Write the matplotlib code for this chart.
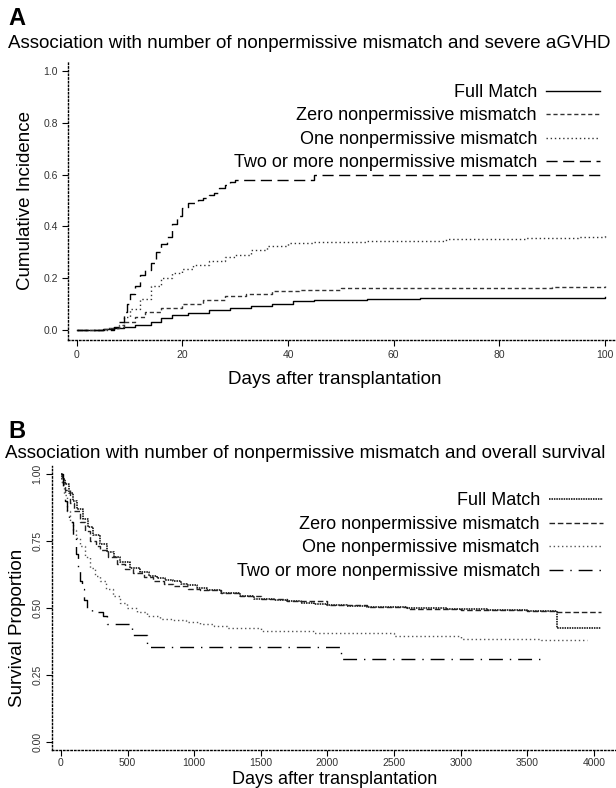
import matplotlib
matplotlib.use("Agg")
import matplotlib.pyplot as plt

plt.rcParams['font.family'] = ['Liberation Sans', 'DejaVu Sans']

groups = ["Full Match", "Zero nonpermissive mismatch",
          "One nonpermissive mismatch", "Two or more nonpermissive mismatch"]

# panel A - cumulative incidence of severe aGVHD (days 0-100)
a_full_days = [0, 5, 7, 9, 11, 14, 16, 18, 21, 25, 29, 33, 37, 41, 45, 55, 65, 100]
a_full_vals = [0, 0.003, 0.006, 0.01, 0.02, 0.03, 0.045, 0.055, 0.065, 0.075, 0.085, 0.093, 0.10, 0.11, 0.115, 0.118, 0.122, 0.125]

a_zero_days = [0, 5, 6, 8, 9, 11, 13, 16, 20, 24, 28, 32, 37, 42, 50, 70, 90, 100]
a_zero_vals = [0, 0.003, 0.006, 0.012, 0.03, 0.05, 0.07, 0.085, 0.10, 0.115, 0.13, 0.14, 0.15, 0.155, 0.16, 0.162, 0.166, 0.168]

a_one_days = [0, 6, 8, 9, 10, 12, 14, 16, 18, 20, 22, 25, 28, 30, 33, 36, 40, 45, 55, 70, 85, 95, 100]
a_one_vals = [0, 0.005, 0.02, 0.05, 0.08, 0.12, 0.17, 0.20, 0.22, 0.235, 0.25, 0.265, 0.28, 0.29, 0.31, 0.325, 0.335, 0.34, 0.345, 0.35, 0.355, 0.36, 0.365]

a_two_days = [0, 7, 8, 9, 9.5, 10, 11, 12, 13, 14, 15, 16, 17, 18, 19, 20, 21, 23, 24, 25, 26, 27, 28, 29, 30, 45, 100]
a_two_vals = [0, 0.01, 0.03, 0.07, 0.10, 0.14, 0.17, 0.21, 0.23, 0.26, 0.30, 0.33, 0.36, 0.41, 0.44, 0.47, 0.49, 0.50, 0.51, 0.52, 0.53, 0.55, 0.56, 0.57, 0.58, 0.60, 0.60]

# panel B - overall survival (days 0-4000+)
b_full_days = [0, 10, 30, 60, 90, 120, 165, 200, 240, 290, 345, 400, 443, 520, 593, 660, 720, 780, 841, 900, 946,
               1020, 1096, 1200, 1343, 1450, 1600, 1700, 1800, 1900, 2000, 2150, 2300, 2600, 2900, 3200, 3500, 3720, 4050]
b_full_vals = [1.0, 0.98, 0.96, 0.93, 0.90, 0.87, 0.83, 0.80, 0.77, 0.74, 0.71, 0.69, 0.67, 0.65, 0.635, 0.62, 0.61, 0.605, 0.60, 0.59, 0.585,
               0.575, 0.567, 0.555, 0.545, 0.535, 0.53, 0.525, 0.52, 0.515, 0.51, 0.507, 0.505, 0.50, 0.495, 0.492, 0.49, 0.425, 0.425]

b_zero_days = [0, 10, 30, 68, 100, 143, 180, 218, 260, 293, 350, 418, 480, 543, 620, 693, 770, 841, 950, 1043,
               1200, 1343, 1500, 1700, 2000, 2300, 2600, 3000, 3500, 3720, 4050]
b_zero_vals = [1.0, 0.97, 0.94, 0.89, 0.86, 0.82, 0.785, 0.75, 0.73, 0.715, 0.69, 0.665, 0.645, 0.63, 0.615, 0.60, 0.59, 0.58, 0.57, 0.565,
               0.555, 0.545, 0.535, 0.525, 0.51, 0.503, 0.497, 0.492, 0.488, 0.485, 0.485]

b_one_days = [0, 10, 25, 45, 65, 90, 115, 143, 180, 218, 255, 293, 340, 390, 440, 495, 570, 645, 740, 840, 940,
              1043, 1150, 1245, 1500, 1900, 2500, 3000, 3600, 3950]
b_one_vals = [1.0, 0.96, 0.92, 0.86, 0.82, 0.79, 0.76, 0.73, 0.69, 0.65, 0.62, 0.60, 0.57, 0.545, 0.52, 0.50, 0.485, 0.47, 0.46, 0.455, 0.447,
              0.44, 0.433, 0.425, 0.415, 0.405, 0.395, 0.385, 0.38, 0.38]

b_two_days = [0, 15, 30, 45, 60, 90, 110, 128, 145, 158, 175, 195, 233, 315, 345, 533, 645, 2100, 3600]
b_two_vals = [1.0, 0.95, 0.90, 0.86, 0.82, 0.76, 0.70, 0.65, 0.60, 0.57, 0.53, 0.50, 0.485, 0.47, 0.44, 0.40, 0.355, 0.31, 0.31]

fig = plt.figure(figsize=(6.16, 7.88), dpi=100)

# ---- panel A ----
axA = fig.add_axes([0.110, 0.5685, 0.890, 0.3525])
axA.step(a_full_days, a_full_vals, where='post', color='black', lw=1.0, label=groups[0])
axA.step(a_zero_days, a_zero_vals, where='post', color='#333333', lw=1.0, ls=(0, (3, 2)), label=groups[1])
axA.step(a_one_days, a_one_vals, where='post', color='#333333', lw=1.0, ls=(0, (1, 2)), label=groups[2])
axA.step(a_two_days, a_two_vals, where='post', color='black', lw=1.0, ls=(0, (8, 4)), label=groups[3])
axA.set_xlim(-1.7, 102.1)
axA.set_ylim(-0.04, 1.035)
axA.set_xticks([0, 20, 40, 60, 80, 100])
axA.set_yticks([0, 0.2, 0.4, 0.6, 0.8, 1.0])
axA.set_yticklabels(["0.0", "0.2", "0.4", "0.6", "0.8", "1.0"])
axA.legend(loc='upper right', bbox_to_anchor=(0.971, 0.922), frameon=False,
           markerfirst=False, fontsize=13, handlelength=3.0, handletextpad=0.5,
           labelspacing=0.36, borderpad=0, borderaxespad=0)

# ---- panel B ----
axB = fig.add_axes([0.085, 0.048, 0.915, 0.361])
axB.step(b_full_days, b_full_vals, where='post', color='black', lw=1.1, ls=(0, (1, 0.6)), label=groups[0])
axB.step(b_zero_days, b_zero_vals, where='post', color='#222222', lw=1.0, ls=(0, (4, 2)), label=groups[1])
axB.step(b_one_days, b_one_vals, where='post', color='#555555', lw=1.0, ls=(0, (1, 2)), label=groups[2])
axB.step(b_two_days, b_two_vals, where='post', color='black', lw=1.0, ls=(0, (10, 5, 1, 5)), label=groups[3])
axB.set_xlim(-64, 4165)
axB.set_ylim(-0.03, 1.03)
axB.set_xticks(range(0, 4001, 500))
axB.set_yticks([0, 0.25, 0.5, 0.75, 1.0])
axB.set_yticklabels(["0.00", "0.25", "0.50", "0.75", "1.00"], rotation=90, va='center')
axB.legend(loc='upper right', bbox_to_anchor=(0.977, 0.906), frameon=False,
           markerfirst=False, fontsize=13, handlelength=3.0, handletextpad=0.5,
           labelspacing=0.36, borderpad=0, borderaxespad=0)

for ax in (axA, axB):
    for s in ('top', 'right'):
        ax.spines[s].set_visible(False)
    for s in ('left', 'bottom'):
        ax.spines[s].set_linestyle(':')
        ax.spines[s].set_linewidth(1.0)
    ax.tick_params(labelsize=7.5, labelcolor='#333333', length=4, width=0.8, pad=3)
axB.tick_params(axis='x', pad=1.5)

# panel letters, titles, axis labels
fig.text(0.013, 0.977, "A", fontsize=17, fontweight='bold', va='center')
fig.text(0.013, 0.945, "Association with number of nonpermissive mismatch and severe aGVHD",
         fontsize=13.5, va='center')
fig.text(0.544, 0.518, "Days after transplantation", fontsize=13.5, ha='center', va='center')
fig.text(0.042, 0.746, "Cumulative Incidence", fontsize=13.5, rotation=90, ha='center', va='center')

fig.text(0.013, 0.452, "B", fontsize=17, fontweight='bold', va='center')
fig.text(0.008, 0.425, "Association with number of nonpermissive mismatch and overall survival",
         fontsize=13.5, va='center')
fig.text(0.544, 0.0055, "Days after transplantation", fontsize=13, ha='center', va='baseline')
fig.text(0.029, 0.203, "Survival Proportion", fontsize=13.5, rotation=90, ha='center', va='center')

fig.savefig("out.png", dpi=100)
